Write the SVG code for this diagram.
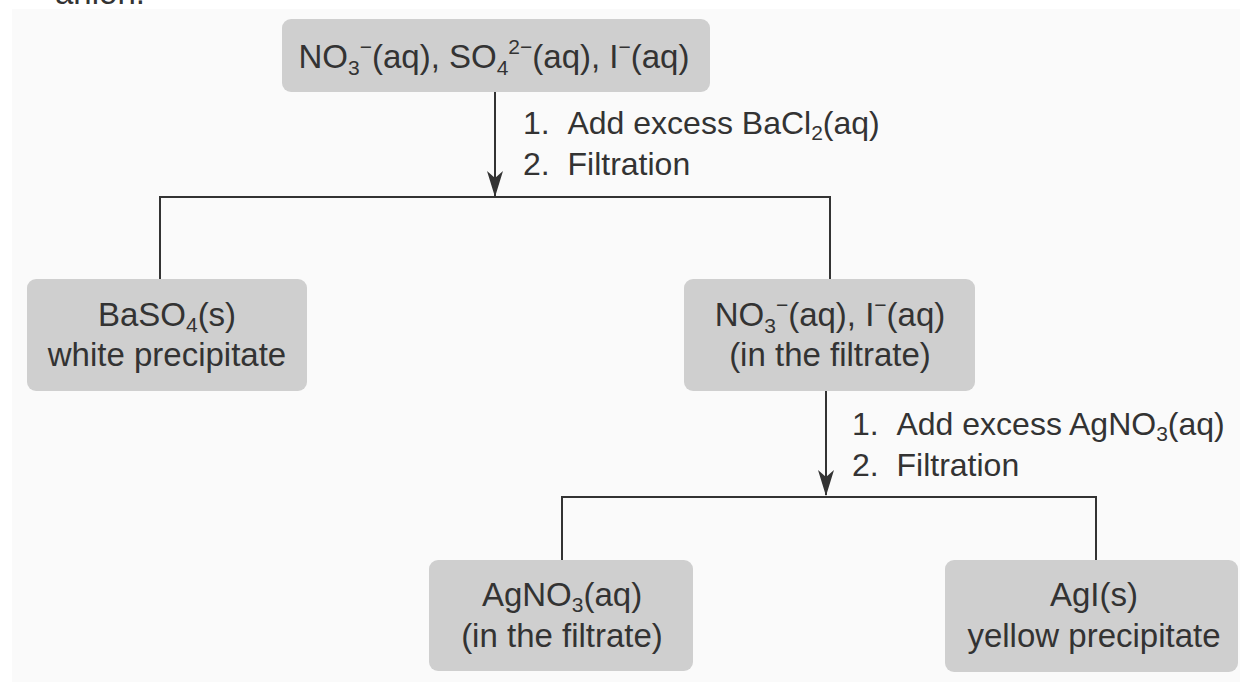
<svg xmlns="http://www.w3.org/2000/svg" width="1240" height="682" viewBox="0 0 1240 682">
<style>
.box{fill:#cfcfcf;}
.t{font-family:"Liberation Sans",Arial,sans-serif;font-size:33px;fill:#333;}
.l{font-size:32px;}
.c{text-anchor:middle;}
.s{font-size:21px;}
.ln{stroke:#333;stroke-width:2;fill:none;}
</style>
<defs>
<marker id="ah" markerWidth="16" markerHeight="26" refX="8" refY="25" orient="0" markerUnits="userSpaceOnUse" viewBox="0 0 16 26">
<path d="M0,0 L8,7 L16,0 L8,26 Z" fill="#333"/>
</marker>
</defs>
<rect x="0" y="0" width="1240" height="682" fill="#fff"/>
<rect x="12" y="9" width="1228" height="673" fill="#fafafa"/>
<text class="t" x="55" y="4">anion.</text>
<g id="connectors">
<line class="ln" x1="495" y1="92" x2="495" y2="196" marker-end="url(#ah)"/>
<polyline class="ln" points="160,280 160,197 830,197 830,280"/>
<line class="ln" x1="826" y1="391" x2="826" y2="495" marker-end="url(#ah)"/>
<polyline class="ln" points="562,560 562,497 1096,497 1096,560"/>
<text class="t l" x="523" y="134">1.&#160;&#160;Add excess BaCl<tspan class="s" dy="6">2</tspan><tspan dy="-6">(aq)</tspan></text>
<text class="t l" x="523" y="175">2.&#160;&#160;Filtration</text>
<text class="t l" x="852" y="435">1.&#160;&#160;Add excess AgNO<tspan class="s" dy="6">3</tspan><tspan dy="-6">(aq)</tspan></text>
<text class="t l" x="852" y="476">2.&#160;&#160;Filtration</text>
</g>
<g id="start">
<rect class="box" x="282" y="19" width="428" height="73" rx="9"/>
<text class="t c" x="494" y="68">NO<tspan class="s" dy="7">3</tspan><tspan class="s" dy="-21">−</tspan><tspan dy="14">(aq), SO</tspan><tspan class="s" dy="7">4</tspan><tspan class="s" dy="-21">2−</tspan><tspan dy="14">(aq), I</tspan><tspan class="s" dy="-14">−</tspan><tspan dy="14">(aq)</tspan></text>
</g>
<g id="baso4">
<rect class="box" x="27" y="279" width="280" height="112" rx="9"/>
<text class="t c" x="167" y="326">BaSO<tspan class="s" dy="6">4</tspan><tspan dy="-6">(s)</tspan></text>
<text class="t c" x="167" y="366">white precipitate</text>
</g>
<g id="filtrate1">
<rect class="box" x="684" y="279" width="291" height="112" rx="9"/>
<text class="t c" x="830" y="326">NO<tspan class="s" dy="7">3</tspan><tspan class="s" dy="-21">−</tspan><tspan dy="14">(aq), I</tspan><tspan class="s" dy="-14">−</tspan><tspan dy="14">(aq)</tspan></text>
<text class="t c" x="830" y="366">(in the filtrate)</text>
</g>
<g id="agno3">
<rect class="box" x="429" y="560" width="264" height="111" rx="9"/>
<text class="t c" x="562" y="606">AgNO<tspan class="s" dy="6">3</tspan><tspan dy="-6">(aq)</tspan></text>
<text class="t c" x="562" y="647">(in the filtrate)</text>
</g>
<g id="agi">
<rect class="box" x="945" y="560" width="293" height="112" rx="9"/>
<text class="t c" x="1094" y="606">AgI(s)</text>
<text class="t c" x="1094" y="647">yellow precipitate</text>
</g>
</svg>
